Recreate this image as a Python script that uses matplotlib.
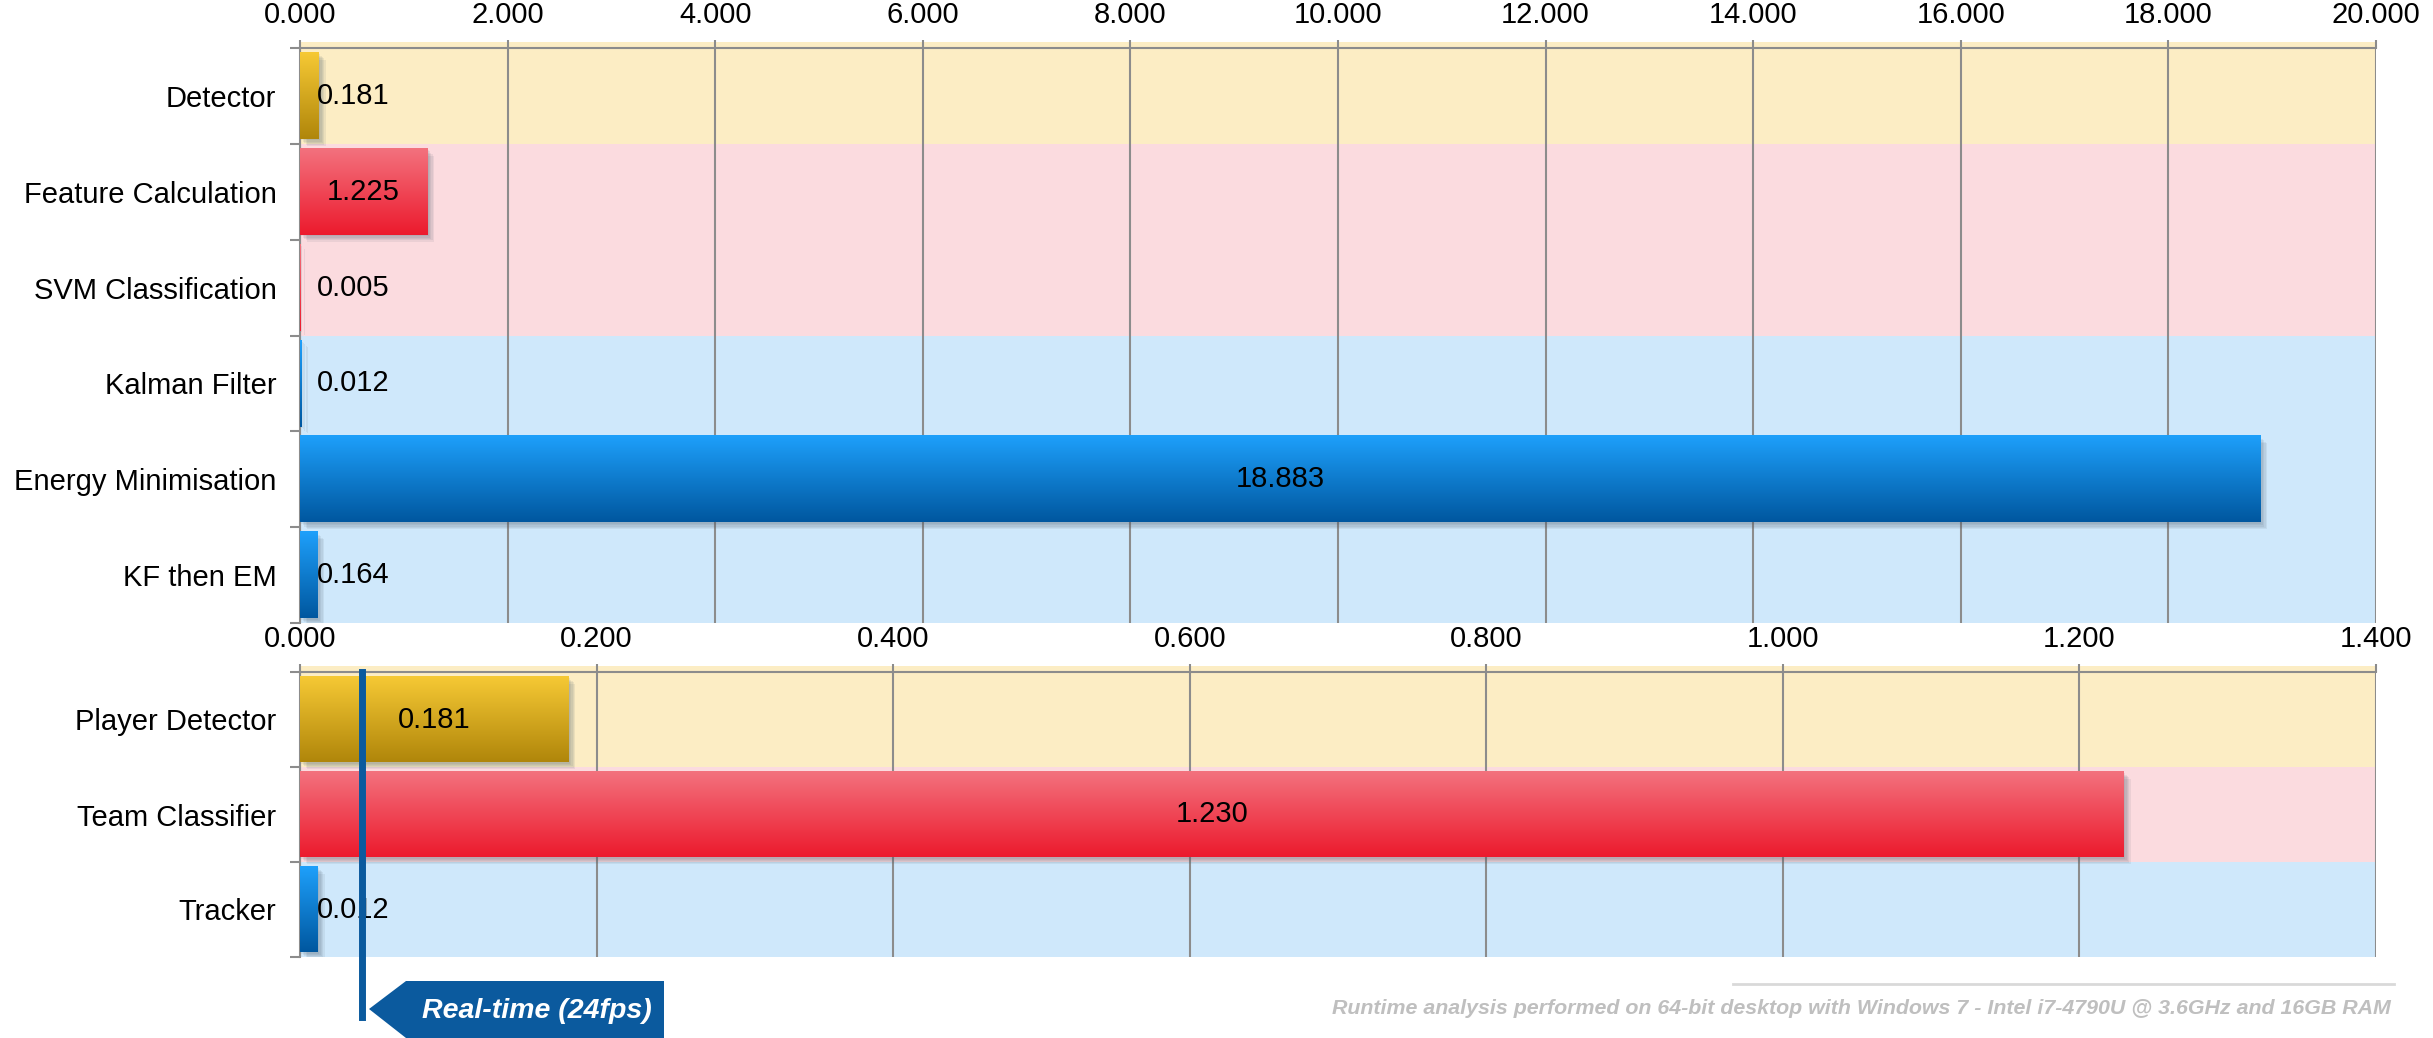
import matplotlib.pyplot as plt
import numpy as np
from matplotlib.colors import to_rgb
from matplotlib.patches import Polygon
from matplotlib.lines import Line2D
from matplotlib import patheffects as pe

plt.rcParams["font.family"] = ["Liberation Sans", "DejaVu Sans"]

# runtime per frame (seconds) for each pipeline stage
stages_top = ["Detector", "Feature Calculation", "SVM Classification",
              "Kalman Filter", "Energy Minimisation", "KF then EM"]
times_top = [0.181, 1.225, 0.005, 0.012, 18.883, 0.164]
groups_top = ["detect", "classify", "classify", "track", "track", "track"]

stages_bottom = ["Player Detector", "Team Classifier", "Tracker"]
times_bottom = [0.181, 1.230, 0.012]
groups_bottom = ["detect", "classify", "track"]

xticks_top = np.arange(0, 20.001, 2)
xticks_bottom = np.arange(0, 1.4001, 0.2)

REALTIME = 1 / 24  # 24 fps

BAND = {"detect": "#FCEDC4", "classify": "#FBDBDF", "track": "#CFE8FB"}
GRAD = {  # (top, bottom)
    "detect": ("#F6C935", "#B0860A"),
    "classify": ("#F3727E", "#EC1A2D"),
    "track": ("#1EA0FB", "#00579F"),
}
GRID = "#8C8C8C"
DARK_BLUE = "#0B5A9E"
W, H = 2433, 1038

# soft drop shadow: a few stacked, faint offset copies
SHADOW = [pe.SimplePatchShadow(offset=(o, -o), shadow_rgbFace="#4A5A6A", alpha=0.09)
          for o in (1, 2, 3, 4, 5)] + [pe.Normal()]


def draw_panel(ax, labels, values, groups, xmax, xticks):
    n = len(labels)
    ypos = np.arange(n)
    for y, g in zip(ypos, groups):
        lo = y - 0.56 if y == 0 else y - 0.5
        ax.axhspan(lo, y + 0.5, color=BAND[g], zorder=0.1, lw=0, clip_on=False)

    bars = ax.barh(ypos, values, height=0.9, zorder=2, lw=0,
                   color=[GRAD[g][1] for g in groups])
    for bar, g, v, y in zip(bars, groups, values, ypos):
        bar.set_path_effects(SHADOW)
        top, bot = np.array(to_rgb(GRAD[g][0])), np.array(to_rgb(GRAD[g][1]))
        t = np.linspace(0, 1, 128)[:, None, None]
        img = top * (1 - t) + bot * t
        x0, x1 = bar.get_x(), bar.get_x() + bar.get_width()
        y0, y1 = bar.get_y(), bar.get_y() + bar.get_height()
        ax.imshow(img, extent=(x0, x1, y1, y0), origin="upper", aspect="auto",
                  zorder=3, interpolation="bilinear")
        if v / xmax < 0.04:
            ax.annotate(f"{v:.3f}", (0, y), xytext=(12, 0), textcoords="offset points",
                        ha="left", va="center", fontsize=21, zorder=5)
        else:
            ax.text(v / 2, y, f"{v:.3f}", ha="center", va="center", fontsize=21, zorder=5)

    ax.set_xlim(0, xmax)
    ax.set_ylim(n - 0.5, -0.5)
    ax.set_xticks(xticks)
    ax.set_xticklabels([f"{x:.3f}" for x in xticks])
    ax.xaxis.tick_top()
    ax.tick_params(axis="x", direction="out", length=6, width=1.5, color=GRID,
                   labelsize=21, pad=8)
    ax.set_yticks(ypos)
    ax.set_yticklabels(labels)
    ax.set_yticks(np.arange(n + 1) - 0.5, minor=True)
    ax.tick_params(axis="y", which="major", length=0, labelsize=21, pad=17)
    ax.tick_params(axis="y", which="minor", length=7, width=1.5, color=GRID)
    ax.grid(axis="x", color=GRID, lw=1.5)
    ax.set_axisbelow(True)
    for side in ("right", "bottom"):
        ax.spines[side].set_visible(False)
    for side in ("top", "left"):
        ax.spines[side].set_color(GRID)
        ax.spines[side].set_linewidth(1.5)


fig = plt.figure(figsize=(W / 100, H / 100), dpi=100)
ax1 = fig.add_axes([300 / W, 1 - 623 / H, 2076 / W, (623 - 48) / H])
ax2 = fig.add_axes([300 / W, 1 - 957 / H, 2076 / W, (957 - 672) / H])

draw_panel(ax1, stages_top, times_top, groups_top, 20, xticks_top)
draw_panel(ax2, stages_bottom, times_bottom, groups_bottom, 1.4, xticks_bottom)

# real-time marker
ax2.axvline(REALTIME, ymin=-0.21, ymax=1, color=DARK_BLUE, lw=5, zorder=6, clip_on=False)
pts = [(369, 1009), (406, 981), (664, 981), (664, 1038), (406, 1038)]
fig.patches.append(Polygon([(x / W, 1 - y / H) for x, y in pts], closed=True,
                           transform=fig.transFigure, facecolor=DARK_BLUE, edgecolor="none"))
fig.text(537 / W, 1 - 1011 / H, "Real-time (24fps)", color="white", fontsize=20.5,
         fontweight="bold", fontstyle="italic", ha="center", va="center")

# footnote
fig.lines.append(Line2D([1733 / W, 2394 / W], [1 - 984 / H, 1 - 984 / H],
                        transform=fig.transFigure, color="#D9D9D9", lw=2))
fig.text(2391 / W, 1 - 1009 / H,
         "Runtime analysis performed on 64-bit desktop with Windows 7 - Intel i7-4790U @ 3.6GHz and 16GB RAM",
         color="#BFBFBF", fontsize=15.4, fontweight="bold", fontstyle="italic", ha="right", va="center")

fig.savefig("out.png", dpi=100)
